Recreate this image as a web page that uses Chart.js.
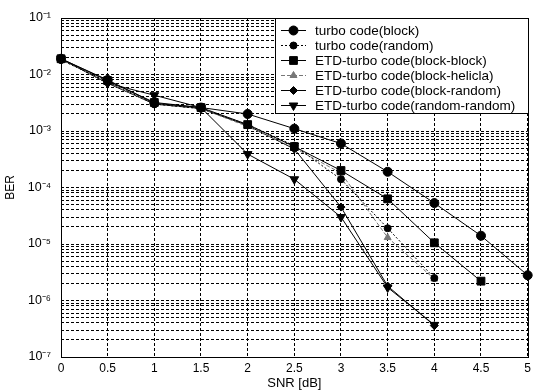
<!DOCTYPE html>
<html><head><meta charset="utf-8">
<script src="https://cdn.jsdelivr.net/npm/chart.js@4/dist/chart.umd.min.js"></script>
<style>html,body{margin:0;padding:0;background:#fff}#wrap{position:relative;width:535px;height:392px}</style>
</head><body><div id="wrap"><canvas id="c" width="535" height="392"></canvas></div>
<script>
// SNR values (x)
const snr = [0, 0.5, 1, 1.5, 2, 2.5, 3, 3.5, 4, 4.5, 5];
// BER series
const turboBlock      = [1.9e-2, 8.0e-3, 3.1e-3, 2.6e-3, 2.0e-3, 1.1e-3, 6.0e-4, 1.9e-4, 5.3e-5, 1.4e-5, 2.8e-6];
const turboRandom     = [1.8e-2, 7.5e-3, 3.0e-3, 2.5e-3, 1.3e-3, 5.5e-4, 1.4e-4, 1.9e-5, 2.5e-6, null, null];
const etdBlockBlock   = [1.9e-2, 7.8e-3, 3.2e-3, 2.6e-3, 1.3e-3, 5.3e-4, 2.0e-4, 6.3e-5, 1.05e-5, 2.2e-6, null];
const etdBlockHelicla = [1.85e-2, 7.2e-3, 3.0e-3, 2.5e-3, 1.2e-3, 5.0e-4, 1.8e-4, 1.3e-5, 2.4e-6, null, null];
const etdBlockRandom  = [1.9e-2, 7.0e-3, 3.0e-3, 2.5e-3, 1.25e-3, 4.8e-4, 4.5e-5, 1.8e-6, 3.6e-7, null, null];
const etdRandomRandom = [1.9e-2, 7.0e-3, 4.3e-3, 2.6e-3, 3.9e-4, 1.4e-4, 3.0e-5, 1.7e-6, 3.7e-7, null, null];
const seriesNames = ['turbo code(block)', 'turbo code(random)', 'ETD-turbo code(block-block)',
  'ETD-turbo code(block-helicla)', 'ETD-turbo code(block-random)', 'ETD-turbo code(random-random)'];
// axis ticks
const xTicks = [0, 0.5, 1, 1.5, 2, 2.5, 3, 3.5, 4, 4.5, 5];
const yTickValues = [1e-7, 1e-6, 1e-5, 1e-4, 1e-3, 1e-2, 1e-1];
const yTickLabels = ['10\u207B\u2077', '10\u207B\u2076', '10\u207B\u2075', '10\u207B\u2074', '10\u207B\u00B3', '10\u207B\u00B2', '10\u207B\u00B9'];
const xTitle = 'SNR [dB]';
const yTitle = 'BER';

// minor log grid (1..9 x decade)
const yGridValues = [];
for (let d = 0; d < yTickValues.length - 1; d++) {
  for (let m = 1; m < 10; m++) yGridValues.push(yTickValues[d] * m);
}
yGridValues.push(yTickValues[yTickValues.length - 1]);

const FONT = "'Liberation Sans', Arial, Helvetica, sans-serif";
const toPts = arr => snr.map((x, i) => ({x: x, y: arr[i]})).filter(p => p.y !== null);

const styles = [
  {data: turboBlock, color: '#000', dash: [], ps: 'circle', r: 4.5, rot: 0},
  {data: turboRandom, color: '#000', dash: [2, 2], ps: 'circle', r: 3.5, rot: 0},
  {data: etdBlockBlock, color: '#000', dash: [], ps: 'rect', r: 5.5, rot: 0},
  {data: etdBlockHelicla, color: '#777', dash: [4, 2], ps: 'triangle', r: 4, rot: 0},
  {data: etdBlockRandom, color: '#000', dash: [], ps: 'rectRot', r: 4, rot: 0},
  {data: etdRandomRandom, color: '#000', dash: [], ps: 'triangle', r: 5, rot: 180}
];

const datasets = styles.map((s, i) => ({
  label: seriesNames[i],
  data: toPts(s.data),
  borderColor: s.color,
  backgroundColor: s.color,
  borderWidth: 1,
  borderDash: s.dash,
  pointStyle: s.ps,
  pointRadius: s.r,
  pointRotation: s.rot,
  pointBorderWidth: 1,
  pointBackgroundColor: s.color,
  pointBorderColor: s.color,
  tension: 0,
  clip: false,
  fill: false
}));

const framePlugin = {
  id: 'frameAndLegend',
  afterDraw(chart) {
    const ctx = chart.ctx, a = chart.chartArea;
    ctx.save();
    ctx.setLineDash([]);
    ctx.strokeStyle = '#000';
    ctx.lineWidth = 1;
    ctx.strokeRect(Math.round(a.left) + 0.5, Math.round(a.top) + 0.5, Math.round(a.right - a.left), Math.round(a.bottom - a.top));
    // legend box
    const lx = 275, ly = Math.round(a.top), lr = Math.round(a.right), lb = 113;
    ctx.fillStyle = '#fff';
    ctx.fillRect(lx, ly, lr - lx, lb - ly);
    ctx.strokeRect(lx + 0.5, ly + 0.5, lr - lx, lb - ly);
    ctx.font = '13.5px ' + FONT;
    ctx.textBaseline = 'middle';
    ctx.textAlign = 'left';
    chart.data.datasets.forEach((ds, i) => {
      const y = 30 + i * 15;
      ctx.save();
      ctx.strokeStyle = ds.borderColor;
      ctx.lineWidth = 1;
      ctx.setLineDash(ds.borderDash || []);
      ctx.beginPath();
      ctx.moveTo(281, y + 0.5);
      ctx.lineTo(306, y + 0.5);
      ctx.stroke();
      ctx.setLineDash([]);
      ctx.fillStyle = ds.pointBackgroundColor;
      ctx.strokeStyle = ds.pointBorderColor;
      Chart.helpers.drawPoint(ctx, {pointStyle: ds.pointStyle, rotation: ds.pointRotation, radius: ds.pointRadius, borderWidth: 1}, 293.5, y + 0.5);
      ctx.restore();
      ctx.fillStyle = '#000';
      ctx.fillText(ds.label, 315, y + 1);
    });
    ctx.restore();
  }
};

new Chart(document.getElementById('c'), {
  type: 'line',
  data: {datasets: datasets},
  options: {
    responsive: false,
    animation: false,
    devicePixelRatio: 1,
    layout: {padding: {left: 0, right: 3, top: 18, bottom: 0}},
    plugins: {legend: {display: false}, tooltip: {enabled: false}},
    scales: {
      x: {
        type: 'linear', min: 0, max: 5,
        afterBuildTicks: s => { s.ticks = xTicks.map(v => ({value: v})); },
        ticks: {color: '#000', font: {family: FONT, size: 12}, padding: 4, maxRotation: 0, autoSkip: false,
          callback: v => String(v)},
        grid: {color: '#000', lineWidth: 1, drawTicks: false},
        border: {display: false, dash: [3, 2]},
        title: {display: true, text: xTitle, color: '#000', font: {family: FONT, size: 13}, padding: {top: 0, bottom: 1}},
        afterFit: s => { s.height = 35; }
      },
      y: {
        type: 'logarithmic', min: 1e-7, max: 1e-1,
        afterBuildTicks: s => { s.ticks = yGridValues.map(v => ({value: v})); },
        ticks: {color: '#000', font: {family: FONT, size: 12.5}, padding: 10, autoSkip: false,
          callback: v => {
            for (let k = 0; k < yTickValues.length; k++) {
              if (Math.abs(v / yTickValues[k] - 1) < 1e-6) return yTickLabels[k];
            }
            return '';
          }},
        grid: {color: '#000', lineWidth: 1, drawTicks: false},
        border: {display: false, dash: [3, 2]},
        title: {display: true, text: yTitle, color: '#000', font: {family: FONT, size: 12}, padding: {top: 3, bottom: 0}},
        afterFit: s => { s.width = 61; }
      }
    }
  },
  plugins: [framePlugin]
});
</script>
</body></html>
